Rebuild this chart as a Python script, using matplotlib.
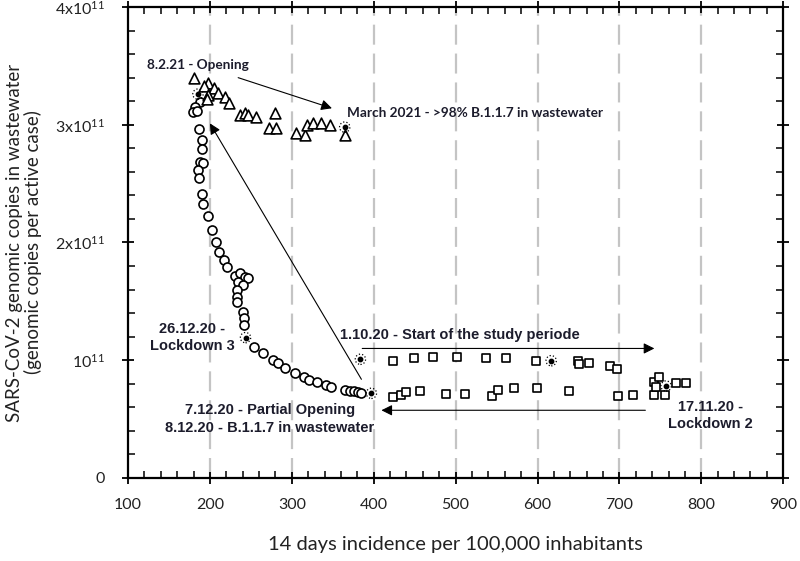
import numpy as np
import matplotlib
matplotlib.use("Agg")
import matplotlib.pyplot as plt
from matplotlib.ticker import MultipleLocator, FixedLocator, FixedFormatter

plt.rcParams['font.family'] = ['Lato', 'DejaVu Sans']
plt.rcParams['mathtext.default'] = 'regular'

E11 = 1e11

# circles: Lockdown 3 period (incidence, copies / 1e11)
circ_x = [187.8, 181.7, 179.6, 184.5, 187.0, 189.9, 189.9, 187.8, 191.8, 185.7,
          187.0, 189.9, 191.1, 197.9, 202.1, 207.3, 211.3, 217.4, 220.4, 230.5,
          236.6, 242.7, 246.7, 234.5, 239.9, 232.6, 233.3, 233.3, 240.6, 241.5,
          241.5, 253.7, 264.3, 277.2, 283.3, 291.5, 303.7, 314.6, 321.1, 330.9,
          342.3, 348.4, 364.6, 370.7, 375.6, 380.9, 385.0]
circ_y = [3.196, 3.153, 3.111, 3.119, 2.964, 2.871, 2.795, 2.686, 2.673, 2.616,
          2.545, 2.412, 2.327, 2.225, 2.106, 2.007, 1.922, 1.851, 1.795, 1.716,
          1.738, 1.710, 1.696, 1.667, 1.639, 1.597, 1.540, 1.497, 1.407, 1.356,
          1.299, 1.115, 1.064, 1.002, 0.974, 0.932, 0.894, 0.860, 0.832, 0.813,
          0.790, 0.775, 0.747, 0.741, 0.736, 0.730, 0.724]

# squares: start of study / Lockdown 2
sq_x = [423.5, 448.8, 472.3, 502.1, 536.6, 561.8, 597.6, 649.1, 651.2, 663.4,
        688.7, 696.7,
        423.5, 433.8, 439.9, 457.0, 487.8, 511.8, 544.8, 551.6, 570.7, 599.6,
        639.0, 697.9, 716.2, 741.8, 748.8, 742.7, 756.1, 744.8, 769.1, 781.3]
sq_y = [0.996, 1.022, 1.030, 1.030, 1.017, 1.017, 0.996, 0.996, 0.968, 0.979,
        0.954, 0.926,
        0.690, 0.705, 0.733, 0.739, 0.713, 0.711, 0.699, 0.747, 0.767, 0.762,
        0.741, 0.699, 0.705, 0.818, 0.860, 0.705, 0.705, 0.775, 0.809, 0.809]

# triangles: after opening
tri_x = [180.9, 197.2, 193.0, 205.2, 210.1, 218.3, 223.5, 197.9, 196.0, 236.6,
         242.7, 246.7, 256.1, 279.3, 272.3, 281.3, 305.7, 316.7, 318.7, 326.0,
         336.2, 346.3, 365.5]
tri_y = [3.400, 3.357, 3.329, 3.309, 3.272, 3.238, 3.187, 3.253, 3.216, 3.083,
         3.102, 3.083, 3.063, 3.097, 2.970, 2.970, 2.930, 2.910, 2.997, 3.017,
         3.017, 2.997, 2.910]

# highlighted event points
event_x = [185.4, 243.5, 383.8, 397.2, 616.7, 757.0, 364.6]
event_y = [3.26, 1.192, 1.008, 0.719, 0.996, 0.781, 2.98]

fig = plt.figure(figsize=(8, 5.61), dpi=100)
ax = fig.add_axes([0.16, 0.148, 0.819, 0.8395])

for gx in range(200, 900, 100):
    ax.axvline(gx, color='#c4c4c4', lw=1.6, dashes=(9, 4), zorder=0)

mk = dict(facecolors='white', edgecolors='black', linewidths=1.2, zorder=3)
ax.scatter(circ_x, np.array(circ_y) * E11, marker='o', s=42, **mk)
ax.scatter(sq_x, np.array(sq_y) * E11, marker='s', s=38, **mk)
ax.scatter(tri_x, np.array(tri_y) * E11, marker='^', s=60, **mk)
ax.scatter(event_x, np.array(event_y) * E11, marker='o', s=55, facecolors='none',
           edgecolors='black', linewidths=0.9, linestyles=':', zorder=4)
ax.scatter(event_x, np.array(event_y) * E11, marker='o', s=10, color='black', zorder=5)

ax.set_xlim(100, 900)
ax.set_ylim(0, 4 * E11)
ax.xaxis.set_major_locator(MultipleLocator(100))
ax.xaxis.set_minor_locator(MultipleLocator(20))
ax.yaxis.set_major_locator(FixedLocator([0, E11, 2 * E11, 3 * E11, 4 * E11]))
ax.yaxis.set_major_formatter(FixedFormatter(['0', '10$^{11}$', '2x10$^{11}$',
                                             '3x10$^{11}$', '4x10$^{11}$']))
ax.yaxis.set_minor_locator(MultipleLocator(0.2 * E11))
ax.tick_params(which='major', direction='inout', length=9, width=1.3,
               top=True, right=True, labelsize=11.5, colors='black',
               labelcolor='#222222')
ax.tick_params(axis='x', which='major', pad=10)
ax.tick_params(axis='y', which='major', pad=12)
ax.tick_params(which='minor', direction='in', length=5, width=1.1,
               top=True, right=True)
for sp in ax.spines.values():
    sp.set_linewidth(1.6)

ax.set_xlabel('14 days incidence per 100,000 inhabitants', fontsize=14.5,
              color='#222222', labelpad=17)
ax.set_ylabel('SARS-CoV-2 genomic copies in wastewater\n(genomic copies per active case)',
              fontsize=13.5, color='#222222', labelpad=9, linespacing=1.1)

tc = '#1c1c2c'
fa = dict(fontsize=10.5, fontweight='bold', color=tc, family=['Liberation Sans', 'DejaVu Sans'])
fb = dict(fontsize=9.8, fontweight='bold', color=tc)
ap = dict(arrowstyle='-|>', color='black', lw=0.8, mutation_scale=16, shrinkA=0, shrinkB=0)

ax.text(123, 3.507 * E11, '8.2.21 - Opening', va='center', ha='left', **fb)
ax.text(367.5, 3.097 * E11, 'March 2021 - >98% B.1.1.7 in wastewater',
        va='center', ha='left', **fb)
ax.annotate('', xy=(349, 3.14 * E11), xytext=(234.5, 3.40 * E11), arrowprops=ap)

ax.annotate('', xy=(200, 3.012 * E11), xytext=(385, 0.838 * E11), arrowprops=ap)

ax.text(178, 1.193 * E11, '26.12.20 -\nLockdown 3', ha='center', va='center',
        linespacing=1.3, **fa)
ax.text(358.5, 1.215 * E11, '1.10.20 - Start of the study periode',
        ha='left', va='center', **fa)
ax.annotate('', xy=(742.7, 1.10 * E11), xytext=(386, 1.10 * E11), arrowprops=ap)

ax.text(273, 0.50 * E11, '7.12.20 - Partial Opening\n8.12.20 - B.1.1.7 in wastewater',
        ha='center', va='center', linespacing=1.3, **fa)
ax.annotate('', xy=(409.4, 0.575 * E11), xytext=(731.7, 0.575 * E11), arrowprops=ap)

ax.text(811, 0.528 * E11, '17.11.20 -\nLockdown 2', ha='center', va='center',
        linespacing=1.3, **fa)

fig.savefig('out.png', dpi=100)
